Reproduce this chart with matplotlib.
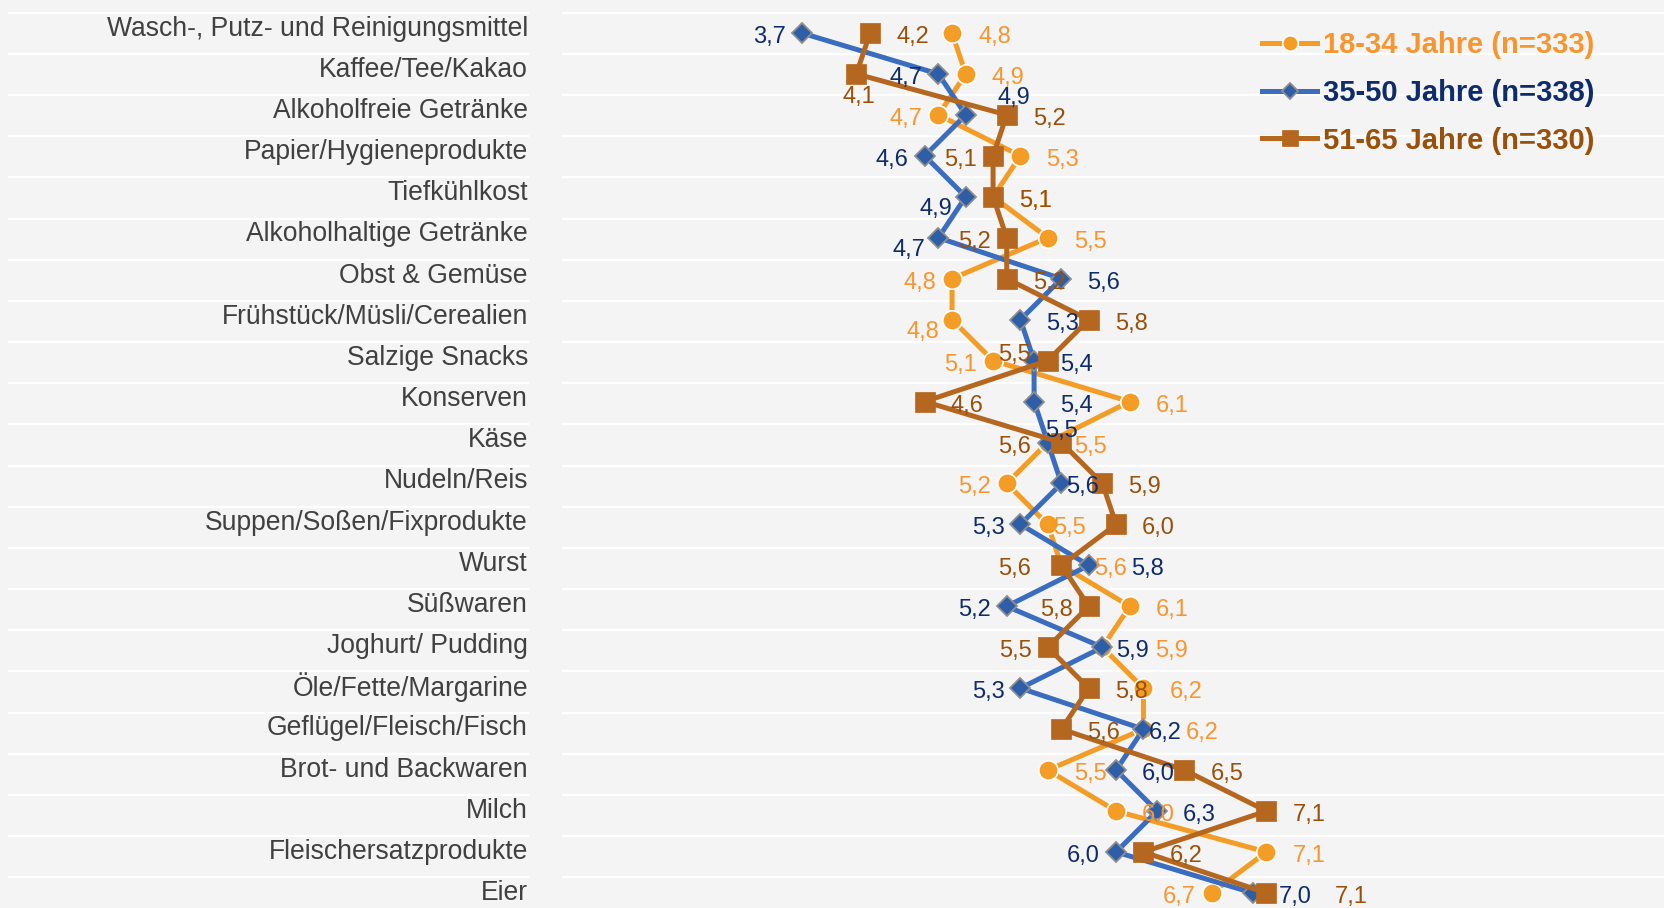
import matplotlib.pyplot as plt
from matplotlib.lines import Line2D

# categories top to bottom, mean rating per age group
categories = [
    "Wasch-, Putz- und Reinigungsmittel", "Kaffee/Tee/Kakao", "Alkoholfreie Getränke",
    "Papier/Hygieneprodukte", "Tiefkühlkost", "Alkoholhaltige Getränke", "Obst & Gemüse",
    "Frühstück/Müsli/Cerealien", "Salzige Snacks", "Konserven", "Käse", "Nudeln/Reis",
    "Suppen/Soßen/Fixprodukte", "Wurst", "Süßwaren", "Joghurt/ Pudding",
    "Öle/Fette/Margarine", "Geflügel/Fleisch/Fisch", "Brot- und Backwaren", "Milch",
    "Fleischersatzprodukte", "Eier",
]
age_18_34 = [4.8, 4.9, 4.7, 5.3, 5.1, 5.5, 4.8, 4.8, 5.1, 6.1, 5.5,
             5.2, 5.5, 5.6, 6.1, 5.9, 6.2, 6.2, 5.5, 6.0, 7.1, 6.7]
age_35_50 = [3.7, 4.7, 4.9, 4.6, 4.9, 4.7, 5.6, 5.3, 5.4, 5.4, 5.5,
             5.6, 5.3, 5.8, 5.2, 5.9, 5.3, 6.2, 6.0, 6.3, 6.0, 7.0]
age_51_65 = [4.2, 4.1, 5.2, 5.1, 5.1, 5.2, 5.2, 5.8, 5.5, 4.6, 5.6,
             5.9, 6.0, 5.6, 5.8, 5.5, 5.8, 5.6, 6.5, 7.1, 6.2, 7.1]
series_labels = ["18-34 Jahre (n=333)", "35-50 Jahre (n=338)", "51-65 Jahre (n=330)"]

# where each value label sits relative to its marker (pixels, +dy = down)
PLACE = {
    'r': (26, 0, 'left'), 'r_near': (5, 0, 'left'), 'r_close': (14, 0, 'left'),
    'r_mid': (33, 0, 'left'), 'r_far': (42, 0, 'left'),
    'r_xfar': (53, 0, 'left'), 'r_xxfar': (68, 0, 'left'),
    'l': (-16, 0, 'right'), 'l_far': (-30, 0, 'right'),
    'lb': (-13, 8, 'right'), 'la': (-17, -10, 'right'),
    'a': (14, -16, 'center'), 'ar': (32, -21, 'left'), 'b': (3, 19, 'center'),
}
pos_18_34 = ['r', 'r', 'l', 'r', 'r', 'r', 'l', 'lb', 'l', 'r', 'r',
             'l', 'r_near', 'r_mid', 'r', 'r_xfar', 'r', 'r_far', 'r', 'r', 'r', 'l']
pos_35_50 = ['l', 'l', 'ar', 'l', 'lb', 'lb', 'r', 'r', 'r', 'r', 'a',
             'r_near', 'l', 'r_far', 'l', 'r_close', 'l', 'r_near', 'r', 'r', 'l', 'r']
pos_51_65 = ['r', 'b', 'r', 'l', 'r', 'l', 'r', 'r', 'la', 'r', 'l_far',
             'r', 'r', 'l_far', 'l', 'l', 'r', 'r', 'r', 'r', 'r', 'r_xxfar']

W, H, DPI = 1665, 908, 100
PT = 72 / DPI              # points per pixel
X0, XSCALE = 569.3, 136.7  # pixel of x=2 and pixels per unit
ROW0, ROWH = 33.0, 40.95   # pixel of first marker row and row pitch
BAND0, BANDH = 12.7, 41.17  # white separators of the background bands
LAB0 = 28.5                # first category label centre

FONT = "Liberation Sans"
BG = "#F4F4F4"


def px_to_row(ypx):
    return (ypx - ROW0) / ROWH


def px_to_ax(xpx):
    return (xpx - X0) / (8 * XSCALE)


fig = plt.figure(figsize=(W / DPI, H / DPI), dpi=DPI, facecolor=BG)
ax = fig.add_axes([X0 / W, 0, 8 * XSCALE / W, 1])
ax.set_facecolor("none")
ax.set_xlim(2, 10)
ax.set_ylim(px_to_row(H), px_to_row(0))
ax.axis("off")

n = len(categories)
rows = list(range(n))
ytr = ax.get_yaxis_transform()

# white separators: label panel and plot area
for k in range(n + 1):
    b = px_to_row(BAND0 + k * BANDH)
    ax.plot([px_to_ax(9), px_to_ax(528)], [b, b],
            color="white", lw=1.6, transform=ytr, clip_on=False, zorder=0)
    ax.plot([px_to_ax(563), 1.01], [b, b],
            color="white", lw=1.6, transform=ytr, clip_on=False, zorder=0)

for i, c in enumerate(categories):
    ax.text(px_to_ax(528), px_to_row(LAB0 + i * BANDH), c, transform=ytr,
            ha="right", va="center", fontsize=19.1, family=FONT, color="#404040")

styles = [
    dict(vals=age_18_34, pos=pos_18_34, line="#F39C26", marker="o", ms=14,
         mfc="#F39C26", mec="white", mew=1.2, txt="#F7962F"),
    dict(vals=age_35_50, pos=pos_35_50, line="#3A6CC0", marker="D", ms=9.8,
         mfc="#2E5EA8", mec="#8E8E8E", mew=1.3, txt="#0E2C6B"),
    dict(vals=age_51_65, pos=pos_51_65, line="#B56720", marker="s", ms=14,
         mfc="#B56720", mec="#B56720", mew=0.5, txt="#98500A"),
]

handles = []
for k, s in enumerate(styles):
    ax.plot(s["vals"], rows, color=s["line"], lw=3.6, marker=s["marker"],
            ms=s["ms"], mfc=s["mfc"], mec=s["mec"], mew=s["mew"],
            zorder=2 + k, solid_joinstyle="round")
    handles.append(Line2D([], [], color=s["line"], lw=3.6, marker=s["marker"],
                          ms=s["ms"] * 0.8, mfc=s["mfc"], mec=s["mec"], mew=s["mew"]))

for k, s in enumerate(styles):
    for i, (v, p) in enumerate(zip(s["vals"], s["pos"])):
        dx, dy, ha = PLACE[p]
        ax.annotate(f"{v:.1f}".replace(".", ","), (v, i),
                    xytext=(dx * PT, -(dy + 4) * PT), textcoords="offset points",
                    ha=ha, va="center", fontsize=17, family=FONT,
                    color=s["txt"], zorder=6 + k)

ax.legend(handles, series_labels, loc="upper left",
          bbox_to_anchor=(1262 / W, 1 - 31 / H), bbox_transform=fig.transFigure,
          frameon=False, prop={"family": FONT, "weight": "bold", "size": 21},
          labelcolor=[s["txt"] for s in styles], handlelength=1.9,
          handletextpad=0.2, labelspacing=0.68, borderpad=0, borderaxespad=0)

fig.savefig("out.png", dpi=DPI, facecolor=BG)
